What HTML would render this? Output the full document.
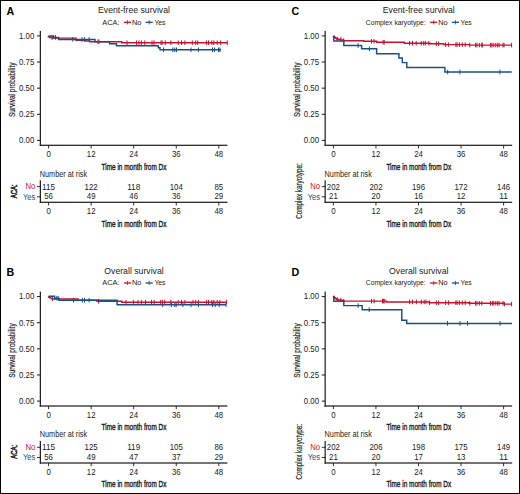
<!DOCTYPE html>
<html><head><meta charset="utf-8"><style>
html,body{margin:0;padding:0;background:#fff;}
svg{display:block;}
text{font-family:"Liberation Sans", sans-serif;}
.cond{stroke:#1a1a1a;stroke-width:0.18px;}
.cond2{stroke:#1a1a1a;stroke-width:0.38px;}
</style></head><body>
<svg width="520" height="494" viewBox="0 0 520 494">
<rect x="0" y="0" width="520" height="494" fill="#fff"/>
<g transform="translate(0,0)">
<text x="6.60" y="14.80" font-size="10.7" font-weight="bold" fill="#000">A</text>
<text x="134.00" y="12.60" font-size="8.7" text-anchor="middle" fill="#1a1a1a">Event-free survival</text>
<text x="102.33" y="24.7" font-size="7.9" textLength="17.2" lengthAdjust="spacingAndGlyphs" fill="#1a1a1a">ACA:</text>
<line x1="123.93" y1="22.3" x2="131.13" y2="22.3" stroke="#C8102E" stroke-width="1.3"/>
<line x1="127.53" y1="20.2" x2="127.53" y2="24.400000000000002" stroke="#C8102E" stroke-width="0.85"/>
<text x="131.93" y="24.7" font-size="7.9" textLength="9.46" lengthAdjust="spacingAndGlyphs" fill="#1a1a1a">No</text>
<line x1="145.59" y1="22.3" x2="152.79" y2="22.3" stroke="#15508C" stroke-width="1.3"/>
<line x1="149.19" y1="20.2" x2="149.19" y2="24.400000000000002" stroke="#15508C" stroke-width="0.85"/>
<text x="154.39" y="24.7" font-size="7.9" textLength="11.17" lengthAdjust="spacingAndGlyphs" fill="#1a1a1a">Yes</text>
<text transform="translate(15.0,89.8) rotate(-90)" font-size="9.0" class="cond" text-anchor="middle" textLength="54.5" lengthAdjust="spacingAndGlyphs" fill="#1a1a1a">Survival probability</text>
<text x="34.30" y="143.25" font-size="8.6" text-anchor="end" textLength="15.3" lengthAdjust="spacingAndGlyphs" fill="#1a1a1a">0.00</text>
<line x1="37.00" y1="140.40" x2="40.35" y2="140.40" stroke="#1a1a1a" stroke-width="1.0"/>
<text x="34.30" y="117.12" font-size="8.6" text-anchor="end" textLength="15.3" lengthAdjust="spacingAndGlyphs" fill="#1a1a1a">0.25</text>
<line x1="37.00" y1="114.28" x2="40.35" y2="114.28" stroke="#1a1a1a" stroke-width="1.0"/>
<text x="34.30" y="91.00" font-size="8.6" text-anchor="end" textLength="15.3" lengthAdjust="spacingAndGlyphs" fill="#1a1a1a">0.50</text>
<line x1="37.00" y1="88.15" x2="40.35" y2="88.15" stroke="#1a1a1a" stroke-width="1.0"/>
<text x="34.30" y="64.88" font-size="8.6" text-anchor="end" textLength="15.3" lengthAdjust="spacingAndGlyphs" fill="#1a1a1a">0.75</text>
<line x1="37.00" y1="62.03" x2="40.35" y2="62.03" stroke="#1a1a1a" stroke-width="1.0"/>
<text x="34.30" y="38.75" font-size="8.6" text-anchor="end" textLength="15.3" lengthAdjust="spacingAndGlyphs" fill="#1a1a1a">1.00</text>
<line x1="37.00" y1="35.90" x2="40.35" y2="35.90" stroke="#1a1a1a" stroke-width="1.0"/>
<rect x="39.75" y="30.90" width="1.20" height="115.00" fill="#1a1a1a"/>
<rect x="39.75" y="144.70" width="187.65" height="1.20" fill="#1a1a1a"/>
<line x1="48.60" y1="145.30" x2="48.60" y2="148.50" stroke="#1a1a1a" stroke-width="0.9"/>
<text x="48.60" y="156.90" font-size="8.6" text-anchor="middle" textLength="4.4" lengthAdjust="spacingAndGlyphs" fill="#1a1a1a">0</text>
<line x1="91.15" y1="145.30" x2="91.15" y2="148.50" stroke="#1a1a1a" stroke-width="0.9"/>
<text x="91.15" y="156.90" font-size="8.6" text-anchor="middle" textLength="8.7" lengthAdjust="spacingAndGlyphs" fill="#1a1a1a">12</text>
<line x1="133.70" y1="145.30" x2="133.70" y2="148.50" stroke="#1a1a1a" stroke-width="0.9"/>
<text x="133.70" y="156.90" font-size="8.6" text-anchor="middle" textLength="8.7" lengthAdjust="spacingAndGlyphs" fill="#1a1a1a">24</text>
<line x1="176.25" y1="145.30" x2="176.25" y2="148.50" stroke="#1a1a1a" stroke-width="0.9"/>
<text x="176.25" y="156.90" font-size="8.6" text-anchor="middle" textLength="8.7" lengthAdjust="spacingAndGlyphs" fill="#1a1a1a">36</text>
<line x1="218.80" y1="145.30" x2="218.80" y2="148.50" stroke="#1a1a1a" stroke-width="0.9"/>
<text x="218.80" y="156.90" font-size="8.6" text-anchor="middle" textLength="8.7" lengthAdjust="spacingAndGlyphs" fill="#1a1a1a">48</text>
<text x="134.00" y="169.60" font-size="9.4" text-anchor="middle" textLength="64.8" lengthAdjust="spacingAndGlyphs" fill="#1a1a1a" class="cond2">Time in month from Dx</text>
<text x="39.80" y="176.70" font-size="8.15" textLength="47.3" lengthAdjust="spacingAndGlyphs" fill="#1a1a1a">Number at risk</text>
<rect x="39.75" y="180.30" width="1.20" height="22.60" fill="#1a1a1a"/>
<rect x="39.75" y="201.70" width="187.65" height="1.20" fill="#1a1a1a"/>
<line x1="37.00" y1="186.60" x2="40.85" y2="186.60" stroke="#1a1a1a" stroke-width="0.9"/>
<text x="35.30" y="189.35" font-size="8.3" text-anchor="end" textLength="9.9" lengthAdjust="spacingAndGlyphs" fill="#C8102E">No</text>
<text x="48.60" y="189.55" font-size="8.3" text-anchor="middle" textLength="13.1" lengthAdjust="spacingAndGlyphs" fill="#1a1a1a">115</text>
<text x="91.15" y="189.55" font-size="8.3" text-anchor="middle" textLength="13.1" lengthAdjust="spacingAndGlyphs" fill="#1a1a1a">122</text>
<text x="133.70" y="189.55" font-size="8.3" text-anchor="middle" textLength="13.1" lengthAdjust="spacingAndGlyphs" fill="#1a1a1a">118</text>
<text x="176.25" y="189.55" font-size="8.3" text-anchor="middle" textLength="13.1" lengthAdjust="spacingAndGlyphs" fill="#1a1a1a">104</text>
<text x="218.80" y="189.55" font-size="8.3" text-anchor="middle" textLength="8.73" lengthAdjust="spacingAndGlyphs" fill="#1a1a1a">85</text>
<line x1="37.00" y1="196.80" x2="40.85" y2="196.80" stroke="#1a1a1a" stroke-width="0.9"/>
<text x="35.30" y="199.55" font-size="8.3" text-anchor="end" textLength="12.4" lengthAdjust="spacingAndGlyphs" fill="#15508C">Yes</text>
<text x="48.60" y="199.40" font-size="8.3" text-anchor="middle" textLength="8.73" lengthAdjust="spacingAndGlyphs" fill="#1a1a1a">56</text>
<text x="91.15" y="199.40" font-size="8.3" text-anchor="middle" textLength="8.73" lengthAdjust="spacingAndGlyphs" fill="#1a1a1a">49</text>
<text x="133.70" y="199.40" font-size="8.3" text-anchor="middle" textLength="8.73" lengthAdjust="spacingAndGlyphs" fill="#1a1a1a">46</text>
<text x="176.25" y="199.40" font-size="8.3" text-anchor="middle" textLength="8.73" lengthAdjust="spacingAndGlyphs" fill="#1a1a1a">36</text>
<text x="218.80" y="199.40" font-size="8.3" text-anchor="middle" textLength="8.73" lengthAdjust="spacingAndGlyphs" fill="#1a1a1a">29</text>
<line x1="48.60" y1="202.30" x2="48.60" y2="205.50" stroke="#1a1a1a" stroke-width="0.9"/>
<text x="48.60" y="213.90" font-size="8.6" text-anchor="middle" textLength="4.4" lengthAdjust="spacingAndGlyphs" fill="#1a1a1a">0</text>
<line x1="91.15" y1="202.30" x2="91.15" y2="205.50" stroke="#1a1a1a" stroke-width="0.9"/>
<text x="91.15" y="213.90" font-size="8.6" text-anchor="middle" textLength="8.7" lengthAdjust="spacingAndGlyphs" fill="#1a1a1a">12</text>
<line x1="133.70" y1="202.30" x2="133.70" y2="205.50" stroke="#1a1a1a" stroke-width="0.9"/>
<text x="133.70" y="213.90" font-size="8.6" text-anchor="middle" textLength="8.7" lengthAdjust="spacingAndGlyphs" fill="#1a1a1a">24</text>
<line x1="176.25" y1="202.30" x2="176.25" y2="205.50" stroke="#1a1a1a" stroke-width="0.9"/>
<text x="176.25" y="213.90" font-size="8.6" text-anchor="middle" textLength="8.7" lengthAdjust="spacingAndGlyphs" fill="#1a1a1a">36</text>
<line x1="218.80" y1="202.30" x2="218.80" y2="205.50" stroke="#1a1a1a" stroke-width="0.9"/>
<text x="218.80" y="213.90" font-size="8.6" text-anchor="middle" textLength="8.7" lengthAdjust="spacingAndGlyphs" fill="#1a1a1a">48</text>
<text x="134.00" y="226.70" font-size="9.4" text-anchor="middle" textLength="64.8" lengthAdjust="spacingAndGlyphs" fill="#1a1a1a" class="cond2">Time in month from Dx</text>
<text transform="translate(17.2,191.2) rotate(-90) scale(0.62,1)" font-size="9.6" text-anchor="middle" fill="#1a1a1a" stroke="#1a1a1a" stroke-width="0.55">ACA:</text>
</g>
<g transform="translate(0,260.7)">
<text x="6.60" y="15.30" font-size="10.7" font-weight="bold" fill="#000">B</text>
<text x="134.00" y="13.10" font-size="8.7" text-anchor="middle" fill="#1a1a1a">Overall survival</text>
<text x="102.33" y="24.7" font-size="7.9" textLength="17.2" lengthAdjust="spacingAndGlyphs" fill="#1a1a1a">ACA:</text>
<line x1="123.93" y1="22.3" x2="131.13" y2="22.3" stroke="#C8102E" stroke-width="1.3"/>
<line x1="127.53" y1="20.2" x2="127.53" y2="24.400000000000002" stroke="#C8102E" stroke-width="0.85"/>
<text x="131.93" y="24.7" font-size="7.9" textLength="9.46" lengthAdjust="spacingAndGlyphs" fill="#1a1a1a">No</text>
<line x1="145.59" y1="22.3" x2="152.79" y2="22.3" stroke="#15508C" stroke-width="1.3"/>
<line x1="149.19" y1="20.2" x2="149.19" y2="24.400000000000002" stroke="#15508C" stroke-width="0.85"/>
<text x="154.39" y="24.7" font-size="7.9" textLength="11.17" lengthAdjust="spacingAndGlyphs" fill="#1a1a1a">Yes</text>
<text transform="translate(15.0,89.8) rotate(-90)" font-size="9.0" class="cond" text-anchor="middle" textLength="54.5" lengthAdjust="spacingAndGlyphs" fill="#1a1a1a">Survival probability</text>
<text x="34.30" y="143.25" font-size="8.6" text-anchor="end" textLength="15.3" lengthAdjust="spacingAndGlyphs" fill="#1a1a1a">0.00</text>
<line x1="37.00" y1="140.40" x2="40.35" y2="140.40" stroke="#1a1a1a" stroke-width="1.0"/>
<text x="34.30" y="117.12" font-size="8.6" text-anchor="end" textLength="15.3" lengthAdjust="spacingAndGlyphs" fill="#1a1a1a">0.25</text>
<line x1="37.00" y1="114.28" x2="40.35" y2="114.28" stroke="#1a1a1a" stroke-width="1.0"/>
<text x="34.30" y="91.00" font-size="8.6" text-anchor="end" textLength="15.3" lengthAdjust="spacingAndGlyphs" fill="#1a1a1a">0.50</text>
<line x1="37.00" y1="88.15" x2="40.35" y2="88.15" stroke="#1a1a1a" stroke-width="1.0"/>
<text x="34.30" y="64.88" font-size="8.6" text-anchor="end" textLength="15.3" lengthAdjust="spacingAndGlyphs" fill="#1a1a1a">0.75</text>
<line x1="37.00" y1="62.03" x2="40.35" y2="62.03" stroke="#1a1a1a" stroke-width="1.0"/>
<text x="34.30" y="38.75" font-size="8.6" text-anchor="end" textLength="15.3" lengthAdjust="spacingAndGlyphs" fill="#1a1a1a">1.00</text>
<line x1="37.00" y1="35.90" x2="40.35" y2="35.90" stroke="#1a1a1a" stroke-width="1.0"/>
<rect x="39.75" y="30.90" width="1.20" height="115.00" fill="#1a1a1a"/>
<rect x="39.75" y="144.70" width="187.65" height="1.20" fill="#1a1a1a"/>
<line x1="48.60" y1="145.30" x2="48.60" y2="148.50" stroke="#1a1a1a" stroke-width="0.9"/>
<text x="48.60" y="156.90" font-size="8.6" text-anchor="middle" textLength="4.4" lengthAdjust="spacingAndGlyphs" fill="#1a1a1a">0</text>
<line x1="91.15" y1="145.30" x2="91.15" y2="148.50" stroke="#1a1a1a" stroke-width="0.9"/>
<text x="91.15" y="156.90" font-size="8.6" text-anchor="middle" textLength="8.7" lengthAdjust="spacingAndGlyphs" fill="#1a1a1a">12</text>
<line x1="133.70" y1="145.30" x2="133.70" y2="148.50" stroke="#1a1a1a" stroke-width="0.9"/>
<text x="133.70" y="156.90" font-size="8.6" text-anchor="middle" textLength="8.7" lengthAdjust="spacingAndGlyphs" fill="#1a1a1a">24</text>
<line x1="176.25" y1="145.30" x2="176.25" y2="148.50" stroke="#1a1a1a" stroke-width="0.9"/>
<text x="176.25" y="156.90" font-size="8.6" text-anchor="middle" textLength="8.7" lengthAdjust="spacingAndGlyphs" fill="#1a1a1a">36</text>
<line x1="218.80" y1="145.30" x2="218.80" y2="148.50" stroke="#1a1a1a" stroke-width="0.9"/>
<text x="218.80" y="156.90" font-size="8.6" text-anchor="middle" textLength="8.7" lengthAdjust="spacingAndGlyphs" fill="#1a1a1a">48</text>
<text x="134.00" y="169.60" font-size="9.4" text-anchor="middle" textLength="64.8" lengthAdjust="spacingAndGlyphs" fill="#1a1a1a" class="cond2">Time in month from Dx</text>
<text x="39.80" y="176.70" font-size="8.15" textLength="47.3" lengthAdjust="spacingAndGlyphs" fill="#1a1a1a">Number at risk</text>
<rect x="39.75" y="180.30" width="1.20" height="22.60" fill="#1a1a1a"/>
<rect x="39.75" y="201.70" width="187.65" height="1.20" fill="#1a1a1a"/>
<line x1="37.00" y1="186.60" x2="40.85" y2="186.60" stroke="#1a1a1a" stroke-width="0.9"/>
<text x="35.30" y="189.35" font-size="8.3" text-anchor="end" textLength="9.9" lengthAdjust="spacingAndGlyphs" fill="#C8102E">No</text>
<text x="48.60" y="189.55" font-size="8.3" text-anchor="middle" textLength="13.1" lengthAdjust="spacingAndGlyphs" fill="#1a1a1a">115</text>
<text x="91.15" y="189.55" font-size="8.3" text-anchor="middle" textLength="13.1" lengthAdjust="spacingAndGlyphs" fill="#1a1a1a">125</text>
<text x="133.70" y="189.55" font-size="8.3" text-anchor="middle" textLength="13.1" lengthAdjust="spacingAndGlyphs" fill="#1a1a1a">119</text>
<text x="176.25" y="189.55" font-size="8.3" text-anchor="middle" textLength="13.1" lengthAdjust="spacingAndGlyphs" fill="#1a1a1a">105</text>
<text x="218.80" y="189.55" font-size="8.3" text-anchor="middle" textLength="8.73" lengthAdjust="spacingAndGlyphs" fill="#1a1a1a">86</text>
<line x1="37.00" y1="196.80" x2="40.85" y2="196.80" stroke="#1a1a1a" stroke-width="0.9"/>
<text x="35.30" y="199.55" font-size="8.3" text-anchor="end" textLength="12.4" lengthAdjust="spacingAndGlyphs" fill="#15508C">Yes</text>
<text x="48.60" y="199.40" font-size="8.3" text-anchor="middle" textLength="8.73" lengthAdjust="spacingAndGlyphs" fill="#1a1a1a">56</text>
<text x="91.15" y="199.40" font-size="8.3" text-anchor="middle" textLength="8.73" lengthAdjust="spacingAndGlyphs" fill="#1a1a1a">49</text>
<text x="133.70" y="199.40" font-size="8.3" text-anchor="middle" textLength="8.73" lengthAdjust="spacingAndGlyphs" fill="#1a1a1a">47</text>
<text x="176.25" y="199.40" font-size="8.3" text-anchor="middle" textLength="8.73" lengthAdjust="spacingAndGlyphs" fill="#1a1a1a">37</text>
<text x="218.80" y="199.40" font-size="8.3" text-anchor="middle" textLength="8.73" lengthAdjust="spacingAndGlyphs" fill="#1a1a1a">29</text>
<line x1="48.60" y1="202.30" x2="48.60" y2="205.50" stroke="#1a1a1a" stroke-width="0.9"/>
<text x="48.60" y="213.90" font-size="8.6" text-anchor="middle" textLength="4.4" lengthAdjust="spacingAndGlyphs" fill="#1a1a1a">0</text>
<line x1="91.15" y1="202.30" x2="91.15" y2="205.50" stroke="#1a1a1a" stroke-width="0.9"/>
<text x="91.15" y="213.90" font-size="8.6" text-anchor="middle" textLength="8.7" lengthAdjust="spacingAndGlyphs" fill="#1a1a1a">12</text>
<line x1="133.70" y1="202.30" x2="133.70" y2="205.50" stroke="#1a1a1a" stroke-width="0.9"/>
<text x="133.70" y="213.90" font-size="8.6" text-anchor="middle" textLength="8.7" lengthAdjust="spacingAndGlyphs" fill="#1a1a1a">24</text>
<line x1="176.25" y1="202.30" x2="176.25" y2="205.50" stroke="#1a1a1a" stroke-width="0.9"/>
<text x="176.25" y="213.90" font-size="8.6" text-anchor="middle" textLength="8.7" lengthAdjust="spacingAndGlyphs" fill="#1a1a1a">36</text>
<line x1="218.80" y1="202.30" x2="218.80" y2="205.50" stroke="#1a1a1a" stroke-width="0.9"/>
<text x="218.80" y="213.90" font-size="8.6" text-anchor="middle" textLength="8.7" lengthAdjust="spacingAndGlyphs" fill="#1a1a1a">48</text>
<text x="134.00" y="226.70" font-size="9.4" text-anchor="middle" textLength="64.8" lengthAdjust="spacingAndGlyphs" fill="#1a1a1a" class="cond2">Time in month from Dx</text>
<text transform="translate(17.2,191.2) rotate(-90) scale(0.62,1)" font-size="9.6" text-anchor="middle" fill="#1a1a1a" stroke="#1a1a1a" stroke-width="0.55">ACA:</text>
</g>
<g transform="translate(284.8,0)">
<text x="6.60" y="14.80" font-size="10.7" font-weight="bold" fill="#000">C</text>
<text x="134.00" y="12.60" font-size="8.7" text-anchor="middle" fill="#1a1a1a">Event-free survival</text>
<text x="80.93" y="24.7" font-size="7.9" textLength="60.0" lengthAdjust="spacingAndGlyphs" fill="#1a1a1a">Complex karyotype:</text>
<line x1="145.33" y1="22.3" x2="152.53" y2="22.3" stroke="#C8102E" stroke-width="1.3"/>
<line x1="148.93" y1="20.2" x2="148.93" y2="24.400000000000002" stroke="#C8102E" stroke-width="0.85"/>
<text x="153.33" y="24.7" font-size="7.9" textLength="9.46" lengthAdjust="spacingAndGlyphs" fill="#1a1a1a">No</text>
<line x1="166.99" y1="22.3" x2="174.19" y2="22.3" stroke="#15508C" stroke-width="1.3"/>
<line x1="170.59" y1="20.2" x2="170.59" y2="24.400000000000002" stroke="#15508C" stroke-width="0.85"/>
<text x="175.79" y="24.7" font-size="7.9" textLength="11.17" lengthAdjust="spacingAndGlyphs" fill="#1a1a1a">Yes</text>
<text transform="translate(15.0,89.8) rotate(-90)" font-size="9.0" class="cond" text-anchor="middle" textLength="54.5" lengthAdjust="spacingAndGlyphs" fill="#1a1a1a">Survival probability</text>
<text x="34.30" y="143.25" font-size="8.6" text-anchor="end" textLength="15.3" lengthAdjust="spacingAndGlyphs" fill="#1a1a1a">0.00</text>
<line x1="37.00" y1="140.40" x2="40.35" y2="140.40" stroke="#1a1a1a" stroke-width="1.0"/>
<text x="34.30" y="117.12" font-size="8.6" text-anchor="end" textLength="15.3" lengthAdjust="spacingAndGlyphs" fill="#1a1a1a">0.25</text>
<line x1="37.00" y1="114.28" x2="40.35" y2="114.28" stroke="#1a1a1a" stroke-width="1.0"/>
<text x="34.30" y="91.00" font-size="8.6" text-anchor="end" textLength="15.3" lengthAdjust="spacingAndGlyphs" fill="#1a1a1a">0.50</text>
<line x1="37.00" y1="88.15" x2="40.35" y2="88.15" stroke="#1a1a1a" stroke-width="1.0"/>
<text x="34.30" y="64.88" font-size="8.6" text-anchor="end" textLength="15.3" lengthAdjust="spacingAndGlyphs" fill="#1a1a1a">0.75</text>
<line x1="37.00" y1="62.03" x2="40.35" y2="62.03" stroke="#1a1a1a" stroke-width="1.0"/>
<text x="34.30" y="38.75" font-size="8.6" text-anchor="end" textLength="15.3" lengthAdjust="spacingAndGlyphs" fill="#1a1a1a">1.00</text>
<line x1="37.00" y1="35.90" x2="40.35" y2="35.90" stroke="#1a1a1a" stroke-width="1.0"/>
<rect x="39.75" y="30.90" width="1.20" height="115.00" fill="#1a1a1a"/>
<rect x="39.75" y="144.70" width="187.65" height="1.20" fill="#1a1a1a"/>
<line x1="48.60" y1="145.30" x2="48.60" y2="148.50" stroke="#1a1a1a" stroke-width="0.9"/>
<text x="48.60" y="156.90" font-size="8.6" text-anchor="middle" textLength="4.4" lengthAdjust="spacingAndGlyphs" fill="#1a1a1a">0</text>
<line x1="91.15" y1="145.30" x2="91.15" y2="148.50" stroke="#1a1a1a" stroke-width="0.9"/>
<text x="91.15" y="156.90" font-size="8.6" text-anchor="middle" textLength="8.7" lengthAdjust="spacingAndGlyphs" fill="#1a1a1a">12</text>
<line x1="133.70" y1="145.30" x2="133.70" y2="148.50" stroke="#1a1a1a" stroke-width="0.9"/>
<text x="133.70" y="156.90" font-size="8.6" text-anchor="middle" textLength="8.7" lengthAdjust="spacingAndGlyphs" fill="#1a1a1a">24</text>
<line x1="176.25" y1="145.30" x2="176.25" y2="148.50" stroke="#1a1a1a" stroke-width="0.9"/>
<text x="176.25" y="156.90" font-size="8.6" text-anchor="middle" textLength="8.7" lengthAdjust="spacingAndGlyphs" fill="#1a1a1a">36</text>
<line x1="218.80" y1="145.30" x2="218.80" y2="148.50" stroke="#1a1a1a" stroke-width="0.9"/>
<text x="218.80" y="156.90" font-size="8.6" text-anchor="middle" textLength="8.7" lengthAdjust="spacingAndGlyphs" fill="#1a1a1a">48</text>
<text x="134.00" y="169.60" font-size="9.4" text-anchor="middle" textLength="64.8" lengthAdjust="spacingAndGlyphs" fill="#1a1a1a" class="cond2">Time in month from Dx</text>
<text x="39.80" y="176.70" font-size="8.15" textLength="47.3" lengthAdjust="spacingAndGlyphs" fill="#1a1a1a">Number at risk</text>
<rect x="39.75" y="180.30" width="1.20" height="22.60" fill="#1a1a1a"/>
<rect x="39.75" y="201.70" width="187.65" height="1.20" fill="#1a1a1a"/>
<line x1="37.00" y1="186.60" x2="40.85" y2="186.60" stroke="#1a1a1a" stroke-width="0.9"/>
<text x="35.30" y="189.35" font-size="8.3" text-anchor="end" textLength="9.9" lengthAdjust="spacingAndGlyphs" fill="#C8102E">No</text>
<text x="48.60" y="189.55" font-size="8.3" text-anchor="middle" textLength="13.1" lengthAdjust="spacingAndGlyphs" fill="#1a1a1a">202</text>
<text x="91.15" y="189.55" font-size="8.3" text-anchor="middle" textLength="13.1" lengthAdjust="spacingAndGlyphs" fill="#1a1a1a">202</text>
<text x="133.70" y="189.55" font-size="8.3" text-anchor="middle" textLength="13.1" lengthAdjust="spacingAndGlyphs" fill="#1a1a1a">196</text>
<text x="176.25" y="189.55" font-size="8.3" text-anchor="middle" textLength="13.1" lengthAdjust="spacingAndGlyphs" fill="#1a1a1a">172</text>
<text x="218.80" y="189.55" font-size="8.3" text-anchor="middle" textLength="13.1" lengthAdjust="spacingAndGlyphs" fill="#1a1a1a">146</text>
<line x1="37.00" y1="196.80" x2="40.85" y2="196.80" stroke="#1a1a1a" stroke-width="0.9"/>
<text x="35.30" y="199.55" font-size="8.3" text-anchor="end" textLength="12.4" lengthAdjust="spacingAndGlyphs" fill="#15508C">Yes</text>
<text x="48.60" y="199.40" font-size="8.3" text-anchor="middle" textLength="8.73" lengthAdjust="spacingAndGlyphs" fill="#1a1a1a">21</text>
<text x="91.15" y="199.40" font-size="8.3" text-anchor="middle" textLength="8.73" lengthAdjust="spacingAndGlyphs" fill="#1a1a1a">20</text>
<text x="133.70" y="199.40" font-size="8.3" text-anchor="middle" textLength="8.73" lengthAdjust="spacingAndGlyphs" fill="#1a1a1a">16</text>
<text x="176.25" y="199.40" font-size="8.3" text-anchor="middle" textLength="8.73" lengthAdjust="spacingAndGlyphs" fill="#1a1a1a">12</text>
<text x="218.80" y="199.40" font-size="8.3" text-anchor="middle" textLength="8.73" lengthAdjust="spacingAndGlyphs" fill="#1a1a1a">11</text>
<line x1="48.60" y1="202.30" x2="48.60" y2="205.50" stroke="#1a1a1a" stroke-width="0.9"/>
<text x="48.60" y="213.90" font-size="8.6" text-anchor="middle" textLength="4.4" lengthAdjust="spacingAndGlyphs" fill="#1a1a1a">0</text>
<line x1="91.15" y1="202.30" x2="91.15" y2="205.50" stroke="#1a1a1a" stroke-width="0.9"/>
<text x="91.15" y="213.90" font-size="8.6" text-anchor="middle" textLength="8.7" lengthAdjust="spacingAndGlyphs" fill="#1a1a1a">12</text>
<line x1="133.70" y1="202.30" x2="133.70" y2="205.50" stroke="#1a1a1a" stroke-width="0.9"/>
<text x="133.70" y="213.90" font-size="8.6" text-anchor="middle" textLength="8.7" lengthAdjust="spacingAndGlyphs" fill="#1a1a1a">24</text>
<line x1="176.25" y1="202.30" x2="176.25" y2="205.50" stroke="#1a1a1a" stroke-width="0.9"/>
<text x="176.25" y="213.90" font-size="8.6" text-anchor="middle" textLength="8.7" lengthAdjust="spacingAndGlyphs" fill="#1a1a1a">36</text>
<line x1="218.80" y1="202.30" x2="218.80" y2="205.50" stroke="#1a1a1a" stroke-width="0.9"/>
<text x="218.80" y="213.90" font-size="8.6" text-anchor="middle" textLength="8.7" lengthAdjust="spacingAndGlyphs" fill="#1a1a1a">48</text>
<text x="134.00" y="226.70" font-size="9.4" text-anchor="middle" textLength="64.8" lengthAdjust="spacingAndGlyphs" fill="#1a1a1a" class="cond2">Time in month from Dx</text>
<text transform="translate(17.6,191.0) rotate(-90)" font-size="8.9" class="cond" text-anchor="middle" textLength="55.5" lengthAdjust="spacingAndGlyphs" fill="#1a1a1a">Complex karyotype:</text>
</g>
<g transform="translate(284.8,260.7)">
<text x="6.60" y="15.30" font-size="10.7" font-weight="bold" fill="#000">D</text>
<text x="134.00" y="13.10" font-size="8.7" text-anchor="middle" fill="#1a1a1a">Overall survival</text>
<text x="80.93" y="24.7" font-size="7.9" textLength="60.0" lengthAdjust="spacingAndGlyphs" fill="#1a1a1a">Complex karyotype:</text>
<line x1="145.33" y1="22.3" x2="152.53" y2="22.3" stroke="#C8102E" stroke-width="1.3"/>
<line x1="148.93" y1="20.2" x2="148.93" y2="24.400000000000002" stroke="#C8102E" stroke-width="0.85"/>
<text x="153.33" y="24.7" font-size="7.9" textLength="9.46" lengthAdjust="spacingAndGlyphs" fill="#1a1a1a">No</text>
<line x1="166.99" y1="22.3" x2="174.19" y2="22.3" stroke="#15508C" stroke-width="1.3"/>
<line x1="170.59" y1="20.2" x2="170.59" y2="24.400000000000002" stroke="#15508C" stroke-width="0.85"/>
<text x="175.79" y="24.7" font-size="7.9" textLength="11.17" lengthAdjust="spacingAndGlyphs" fill="#1a1a1a">Yes</text>
<text transform="translate(15.0,89.8) rotate(-90)" font-size="9.0" class="cond" text-anchor="middle" textLength="54.5" lengthAdjust="spacingAndGlyphs" fill="#1a1a1a">Survival probability</text>
<text x="34.30" y="143.25" font-size="8.6" text-anchor="end" textLength="15.3" lengthAdjust="spacingAndGlyphs" fill="#1a1a1a">0.00</text>
<line x1="37.00" y1="140.40" x2="40.35" y2="140.40" stroke="#1a1a1a" stroke-width="1.0"/>
<text x="34.30" y="117.12" font-size="8.6" text-anchor="end" textLength="15.3" lengthAdjust="spacingAndGlyphs" fill="#1a1a1a">0.25</text>
<line x1="37.00" y1="114.28" x2="40.35" y2="114.28" stroke="#1a1a1a" stroke-width="1.0"/>
<text x="34.30" y="91.00" font-size="8.6" text-anchor="end" textLength="15.3" lengthAdjust="spacingAndGlyphs" fill="#1a1a1a">0.50</text>
<line x1="37.00" y1="88.15" x2="40.35" y2="88.15" stroke="#1a1a1a" stroke-width="1.0"/>
<text x="34.30" y="64.88" font-size="8.6" text-anchor="end" textLength="15.3" lengthAdjust="spacingAndGlyphs" fill="#1a1a1a">0.75</text>
<line x1="37.00" y1="62.03" x2="40.35" y2="62.03" stroke="#1a1a1a" stroke-width="1.0"/>
<text x="34.30" y="38.75" font-size="8.6" text-anchor="end" textLength="15.3" lengthAdjust="spacingAndGlyphs" fill="#1a1a1a">1.00</text>
<line x1="37.00" y1="35.90" x2="40.35" y2="35.90" stroke="#1a1a1a" stroke-width="1.0"/>
<rect x="39.75" y="30.90" width="1.20" height="115.00" fill="#1a1a1a"/>
<rect x="39.75" y="144.70" width="187.65" height="1.20" fill="#1a1a1a"/>
<line x1="48.60" y1="145.30" x2="48.60" y2="148.50" stroke="#1a1a1a" stroke-width="0.9"/>
<text x="48.60" y="156.90" font-size="8.6" text-anchor="middle" textLength="4.4" lengthAdjust="spacingAndGlyphs" fill="#1a1a1a">0</text>
<line x1="91.15" y1="145.30" x2="91.15" y2="148.50" stroke="#1a1a1a" stroke-width="0.9"/>
<text x="91.15" y="156.90" font-size="8.6" text-anchor="middle" textLength="8.7" lengthAdjust="spacingAndGlyphs" fill="#1a1a1a">12</text>
<line x1="133.70" y1="145.30" x2="133.70" y2="148.50" stroke="#1a1a1a" stroke-width="0.9"/>
<text x="133.70" y="156.90" font-size="8.6" text-anchor="middle" textLength="8.7" lengthAdjust="spacingAndGlyphs" fill="#1a1a1a">24</text>
<line x1="176.25" y1="145.30" x2="176.25" y2="148.50" stroke="#1a1a1a" stroke-width="0.9"/>
<text x="176.25" y="156.90" font-size="8.6" text-anchor="middle" textLength="8.7" lengthAdjust="spacingAndGlyphs" fill="#1a1a1a">36</text>
<line x1="218.80" y1="145.30" x2="218.80" y2="148.50" stroke="#1a1a1a" stroke-width="0.9"/>
<text x="218.80" y="156.90" font-size="8.6" text-anchor="middle" textLength="8.7" lengthAdjust="spacingAndGlyphs" fill="#1a1a1a">48</text>
<text x="134.00" y="169.60" font-size="9.4" text-anchor="middle" textLength="64.8" lengthAdjust="spacingAndGlyphs" fill="#1a1a1a" class="cond2">Time in month from Dx</text>
<text x="39.80" y="176.70" font-size="8.15" textLength="47.3" lengthAdjust="spacingAndGlyphs" fill="#1a1a1a">Number at risk</text>
<rect x="39.75" y="180.30" width="1.20" height="22.60" fill="#1a1a1a"/>
<rect x="39.75" y="201.70" width="187.65" height="1.20" fill="#1a1a1a"/>
<line x1="37.00" y1="186.60" x2="40.85" y2="186.60" stroke="#1a1a1a" stroke-width="0.9"/>
<text x="35.30" y="189.35" font-size="8.3" text-anchor="end" textLength="9.9" lengthAdjust="spacingAndGlyphs" fill="#C8102E">No</text>
<text x="48.60" y="189.55" font-size="8.3" text-anchor="middle" textLength="13.1" lengthAdjust="spacingAndGlyphs" fill="#1a1a1a">202</text>
<text x="91.15" y="189.55" font-size="8.3" text-anchor="middle" textLength="13.1" lengthAdjust="spacingAndGlyphs" fill="#1a1a1a">206</text>
<text x="133.70" y="189.55" font-size="8.3" text-anchor="middle" textLength="13.1" lengthAdjust="spacingAndGlyphs" fill="#1a1a1a">198</text>
<text x="176.25" y="189.55" font-size="8.3" text-anchor="middle" textLength="13.1" lengthAdjust="spacingAndGlyphs" fill="#1a1a1a">175</text>
<text x="218.80" y="189.55" font-size="8.3" text-anchor="middle" textLength="13.1" lengthAdjust="spacingAndGlyphs" fill="#1a1a1a">149</text>
<line x1="37.00" y1="196.80" x2="40.85" y2="196.80" stroke="#1a1a1a" stroke-width="0.9"/>
<text x="35.30" y="199.55" font-size="8.3" text-anchor="end" textLength="12.4" lengthAdjust="spacingAndGlyphs" fill="#15508C">Yes</text>
<text x="48.60" y="199.40" font-size="8.3" text-anchor="middle" textLength="8.73" lengthAdjust="spacingAndGlyphs" fill="#1a1a1a">21</text>
<text x="91.15" y="199.40" font-size="8.3" text-anchor="middle" textLength="8.73" lengthAdjust="spacingAndGlyphs" fill="#1a1a1a">20</text>
<text x="133.70" y="199.40" font-size="8.3" text-anchor="middle" textLength="8.73" lengthAdjust="spacingAndGlyphs" fill="#1a1a1a">17</text>
<text x="176.25" y="199.40" font-size="8.3" text-anchor="middle" textLength="8.73" lengthAdjust="spacingAndGlyphs" fill="#1a1a1a">13</text>
<text x="218.80" y="199.40" font-size="8.3" text-anchor="middle" textLength="8.73" lengthAdjust="spacingAndGlyphs" fill="#1a1a1a">11</text>
<line x1="48.60" y1="202.30" x2="48.60" y2="205.50" stroke="#1a1a1a" stroke-width="0.9"/>
<text x="48.60" y="213.90" font-size="8.6" text-anchor="middle" textLength="4.4" lengthAdjust="spacingAndGlyphs" fill="#1a1a1a">0</text>
<line x1="91.15" y1="202.30" x2="91.15" y2="205.50" stroke="#1a1a1a" stroke-width="0.9"/>
<text x="91.15" y="213.90" font-size="8.6" text-anchor="middle" textLength="8.7" lengthAdjust="spacingAndGlyphs" fill="#1a1a1a">12</text>
<line x1="133.70" y1="202.30" x2="133.70" y2="205.50" stroke="#1a1a1a" stroke-width="0.9"/>
<text x="133.70" y="213.90" font-size="8.6" text-anchor="middle" textLength="8.7" lengthAdjust="spacingAndGlyphs" fill="#1a1a1a">24</text>
<line x1="176.25" y1="202.30" x2="176.25" y2="205.50" stroke="#1a1a1a" stroke-width="0.9"/>
<text x="176.25" y="213.90" font-size="8.6" text-anchor="middle" textLength="8.7" lengthAdjust="spacingAndGlyphs" fill="#1a1a1a">36</text>
<line x1="218.80" y1="202.30" x2="218.80" y2="205.50" stroke="#1a1a1a" stroke-width="0.9"/>
<text x="218.80" y="213.90" font-size="8.6" text-anchor="middle" textLength="8.7" lengthAdjust="spacingAndGlyphs" fill="#1a1a1a">48</text>
<text x="134.00" y="226.70" font-size="9.4" text-anchor="middle" textLength="64.8" lengthAdjust="spacingAndGlyphs" fill="#1a1a1a" class="cond2">Time in month from Dx</text>
<text transform="translate(17.6,191.0) rotate(-90)" font-size="8.9" class="cond" text-anchor="middle" textLength="55.5" lengthAdjust="spacingAndGlyphs" fill="#1a1a1a">Complex karyotype:</text>
</g>
<path d="M48.40,35.90H48.40V36.80H49.60V37.50H52.30V38.10H76.00V40.20H85.50V40.90H89.80V41.70H121.70V42.70H227.30" fill="none" stroke="#C8102E" stroke-width="1.45" stroke-linejoin="miter" stroke-linecap="butt"/>
<path d="M48.40,35.90H53.60V37.40H58.60V39.40H95.00V41.80H109.60V43.80H116.50V45.80H158.30V47.70H160.00V49.80H221.20" fill="none" stroke="#15508C" stroke-width="1.45" stroke-linejoin="miter" stroke-linecap="butt"/>
<path d="M52.00,35.20V39.80M97.90,39.40V44.00M99.00,39.40V44.00M127.00,40.40V45.00M136.60,40.40V45.00M139.00,40.40V45.00M141.40,40.40V45.00M144.80,40.40V45.00M152.00,40.40V45.00M154.00,40.40V45.00M161.00,40.40V45.00M162.10,40.40V45.00M165.30,40.40V45.00M170.80,40.40V45.00M178.20,40.40V45.00M181.50,40.40V45.00M184.90,40.40V45.00M192.30,40.40V45.00M195.70,40.40V45.00M197.70,40.40V45.00M206.40,40.40V45.00M208.50,40.40V45.00M211.80,40.40V45.00M213.80,40.40V45.00M217.20,40.40V45.00M220.60,40.40V45.00M227.30,40.40V45.00" fill="none" stroke="#C8102E" stroke-width="1.0"/>
<path d="M55.50,35.10V39.70M72.80,37.10V41.70M82.00,37.10V41.70M84.40,37.10V41.70M89.10,37.10V41.70M163.60,47.50V52.10M172.80,47.50V52.10M174.80,47.50V52.10M176.50,47.50V52.10M191.00,47.50V52.10M198.40,47.50V52.10M212.50,47.50V52.10M214.50,47.50V52.10M218.50,47.50V52.10M219.90,47.50V52.10" fill="none" stroke="#15508C" stroke-width="1.0"/>
<path d="M48.60,296.30H48.60V297.30H50.00V298.10H52.30V298.90H78.00V300.20H97.00V301.20H121.70V302.20H226.60" fill="none" stroke="#C8102E" stroke-width="1.45" stroke-linejoin="miter" stroke-linecap="butt"/>
<path d="M48.60,296.30H54.60V298.20H59.00V300.20H117.10V304.80H226.00" fill="none" stroke="#15508C" stroke-width="1.45" stroke-linejoin="miter" stroke-linecap="butt"/>
<path d="M52.30,296.60V301.20M98.50,298.90V303.50M126.00,299.90V304.50M133.40,299.90V304.50M138.00,299.90V304.50M141.40,299.90V304.50M145.50,299.90V304.50M151.50,299.90V304.50M154.20,299.90V304.50M160.70,299.90V304.50M162.30,299.90V304.50M164.70,299.90V304.50M170.80,299.90V304.50M178.20,299.90V304.50M181.50,299.90V304.50M184.90,299.90V304.50M193.00,299.90V304.50M195.70,299.90V304.50M198.40,299.90V304.50M206.40,299.90V304.50M208.50,299.90V304.50M211.80,299.90V304.50M213.80,299.90V304.50M217.20,299.90V304.50M219.90,299.90V304.50M226.60,299.90V304.50" fill="none" stroke="#C8102E" stroke-width="1.0"/>
<path d="M56.80,295.90V300.50M58.10,295.90V300.50M73.50,297.90V302.50M82.40,297.90V302.50M84.50,297.90V302.50M89.10,297.90V302.50M162.70,302.50V307.10M171.40,302.50V307.10M174.80,302.50V307.10M176.20,302.50V307.10M182.90,302.50V307.10M191.00,302.50V307.10M198.40,302.50V307.10M212.50,302.50V307.10M215.20,302.50V307.10M219.20,302.50V307.10M226.00,302.50V307.10" fill="none" stroke="#15508C" stroke-width="1.0"/>
<path d="M333.40,35.90H333.40V36.40H334.30V37.30H335.20V38.30H336.80V39.00H338.50V39.50H341.00V40.00H343.50V40.70H363.50V41.30H376.70V42.20H404.40V43.20H430.00V43.70H443.80V44.60H469.20V45.10H511.60" fill="none" stroke="#C8102E" stroke-width="1.45" stroke-linejoin="miter" stroke-linecap="butt"/>
<path d="M333.40,35.90H333.80V40.90H343.80V45.50H361.60V48.80H376.60V53.80H398.90V58.00H402.30V62.60H406.80V67.40H444.90V72.00H511.70" fill="none" stroke="#15508C" stroke-width="1.45" stroke-linejoin="miter" stroke-linecap="butt"/>
<path d="M337.20,36.70V41.30M340.80,37.20V41.80M343.70,38.40V43.00M371.50,39.00V43.60M374.10,39.00V43.60M383.10,39.90V44.50M384.20,39.90V44.50M409.60,40.90V45.50M412.50,40.90V45.50M416.20,40.90V45.50M421.30,40.90V45.50M423.70,40.90V45.50M425.40,40.90V45.50M428.80,40.90V45.50M436.30,41.40V46.00M438.60,41.40V46.00M445.60,42.30V46.90M448.40,42.30V46.90M455.90,42.30V46.90M457.10,42.30V46.90M459.40,42.30V46.90M462.30,42.30V46.90M465.20,42.30V46.90M469.80,42.80V47.40M475.60,42.80V47.40M477.00,42.80V47.40M479.40,42.80V47.40M481.80,42.80V47.40M482.30,42.80V47.40M490.50,42.80V47.40M491.90,42.80V47.40M493.80,42.80V47.40M495.80,42.80V47.40M497.70,42.80V47.40M499.10,42.80V47.40M503.00,42.80V47.40M504.00,42.80V47.40M511.60,42.80V47.40" fill="none" stroke="#C8102E" stroke-width="1.0"/>
<path d="M358.10,43.20V47.80M369.40,46.50V51.10M447.70,69.70V74.30M459.90,69.70V74.30M499.90,69.70V74.30" fill="none" stroke="#15508C" stroke-width="1.0"/>
<path d="M333.40,296.30H333.40V296.80H334.30V297.70H335.20V298.70H336.80V299.40H338.50V299.90H341.00V300.40H343.50V301.10H386.50V301.90H429.40V302.70H469.20V303.30H504.40V304.10H511.60" fill="none" stroke="#C8102E" stroke-width="1.45" stroke-linejoin="miter" stroke-linecap="butt"/>
<path d="M333.40,296.30H333.80V301.30H343.80V305.60H362.20V309.70H401.80V320.20H406.70V323.40H512.10" fill="none" stroke="#15508C" stroke-width="1.45" stroke-linejoin="miter" stroke-linecap="butt"/>
<path d="M337.20,297.10V301.70M340.80,297.60V302.20M343.70,298.80V303.40M371.50,298.80V303.40M374.10,298.80V303.40M382.50,298.80V303.40M383.60,298.80V303.40M384.80,298.80V303.40M409.60,299.60V304.20M412.50,299.60V304.20M416.40,299.60V304.20M421.30,299.60V304.20M424.20,299.60V304.20M426.00,299.60V304.20M429.40,300.40V305.00M436.30,300.40V305.00M438.60,300.40V305.00M445.60,300.40V305.00M448.40,300.40V305.00M455.90,300.40V305.00M457.10,300.40V305.00M459.40,300.40V305.00M462.30,300.40V305.00M465.20,300.40V305.00M469.80,301.00V305.60M475.60,301.00V305.60M477.00,301.00V305.60M479.40,301.00V305.60M481.80,301.00V305.60M490.50,301.00V305.60M492.40,301.00V305.60M493.80,301.00V305.60M495.80,301.00V305.60M497.70,301.00V305.60M499.10,301.00V305.60M503.00,301.00V305.60M504.40,301.80V306.40M511.60,301.80V306.40" fill="none" stroke="#C8102E" stroke-width="1.0"/>
<path d="M358.10,303.30V307.90M369.20,307.40V312.00M447.50,321.10V325.70M460.00,321.10V325.70M467.50,321.10V325.70M500.10,321.10V325.70" fill="none" stroke="#15508C" stroke-width="1.0"/>
<rect x="0.5" y="0.5" width="519" height="493" fill="none" stroke="#000" stroke-width="1"/>
</svg>
</body></html>
